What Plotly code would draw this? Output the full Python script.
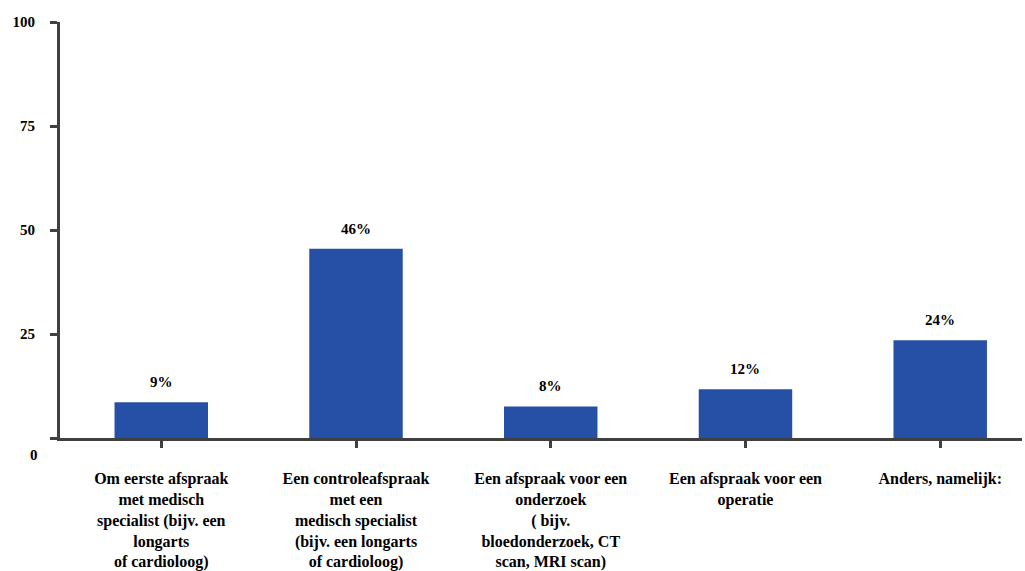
import plotly.graph_objects as go

categories = [
    "Om eerste afspraak<br>met medisch<br>specialist (bijv. een<br>longarts<br>of cardioloog)",
    "Een controleafspraak<br>met een<br>medisch specialist<br>(bijv. een longarts<br>of cardioloog)",
    "Een afspraak voor een<br>onderzoek<br>( bijv.<br>bloedonderzoek, CT<br>scan, MRI scan)",
    "Een afspraak voor een<br>operatie",
    "Anders, namelijk:",
]
values = [8.6, 45.5, 7.6, 11.7, 23.5]
value_labels = ["9%", "46%", "8%", "12%", "24%"]
y_ticks = [0, 25, 50, 75, 100]

font_family = "Liberation Serif, Times New Roman, serif"
bar_color = "#2550A5"
axis_color = "#404040"

x_idx = list(range(len(categories)))

fig = go.Figure()
fig.add_trace(go.Bar(
    x=x_idx, y=values, width=0.48,
    marker=dict(color=bar_color, line=dict(width=0)),
    hoverinfo="skip",
))

for xi, v, lab in zip(x_idx, values, value_labels):
    fig.add_annotation(x=xi, y=v, text="<b>%s</b>" % lab, showarrow=False,
                       yanchor="bottom", yshift=10,
                       font=dict(family=font_family, size=15, color="black"))

# "0" label sits slightly below the axis in the reference
fig.add_annotation(x=0, xref="paper", y=0, yref="y", text="<b>0</b>", showarrow=False,
                   xanchor="right", yanchor="middle", xshift=-20, yshift=-17,
                   font=dict(family=font_family, size=15, color="black"))

fig.update_layout(
    width=1025, height=571,
    margin=dict(l=60, r=3, t=22, b=133),
    plot_bgcolor="white", paper_bgcolor="white",
    showlegend=False, bargap=0.5,
    font=dict(family=font_family, size=15, color="black"),
)
fig.update_xaxes(
    tickmode="array", tickvals=x_idx,
    ticktext=["<b>%s</b>" % c for c in categories],
    range=[-0.52, 4.42], automargin=False,
    showline=True, linecolor=axis_color, linewidth=3,
    ticks="outside", ticklen=7, tickwidth=3, tickcolor=axis_color,
    showgrid=False, zeroline=False, ticklabelstandoff=17,
    tickfont=dict(family=font_family, size=16, color="black"),
)
fig.update_yaxes(
    range=[0, 100], tickmode="array", tickvals=y_ticks, automargin=False,
    ticktext=["", "<b>25</b>", "<b>50</b>", "<b>75</b>", "<b>100</b>"],
    showline=True, linecolor=axis_color, linewidth=3,
    ticks="outside", ticklen=7, tickwidth=3, tickcolor=axis_color,
    showgrid=False, zeroline=False, ticklabelstandoff=12,
    tickfont=dict(family=font_family, size=15, color="black"),
)

fig.write_html("out.html")
